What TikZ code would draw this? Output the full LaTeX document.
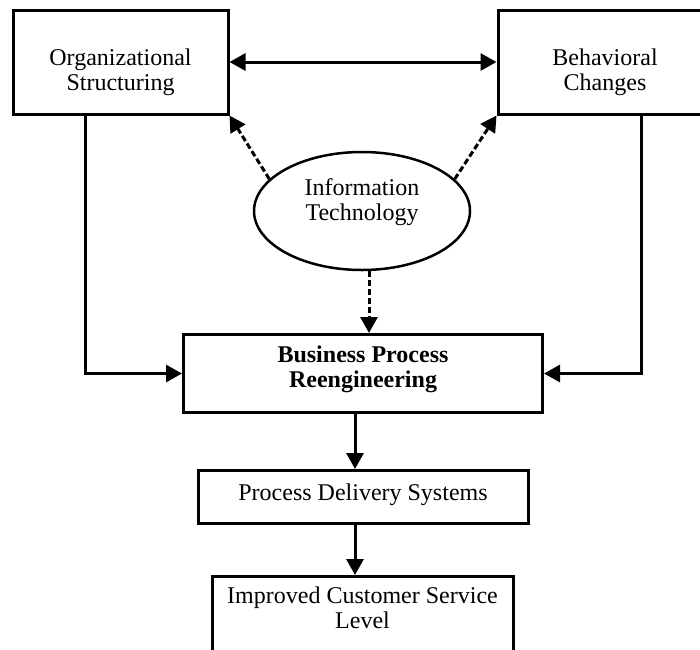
\documentclass[tikz,border=0pt]{standalone}
\usepackage{fontspec}
\setmainfont{Liberation Serif}
\usetikzlibrary{shapes,arrows.meta}
\tikzstyle{block} = [draw, line width=3pt, rectangle, align=center,
    font=\fontsize{24}{25}\selectfont, inner sep=4pt]
\tikzstyle{oval} = [draw, line width=2.5pt, ellipse, align=center,
    font=\fontsize{24}{25}\selectfont]
\tikzstyle{link} = [line width=3pt, ->]
\tikzstyle{dlink} = [link, dash pattern=on 6pt off 3pt]

\begin{document}
\begin{tikzpicture}[x=1pt,y=-1pt,>={Triangle[length=16pt,width=17pt]}]
\useasboundingbox (0,0) rectangle (700,649);

\coordinate (P) at (85,0);
\coordinate (Q) at (641,0);
\coordinate (R) at (355,0);

\node[block, name=org, minimum width=215pt, minimum height=104pt, text height=62pt, text depth=6pt] at (120.5,62) {Organizational\\Structuring};
\node[block, name=beh, minimum width=214pt, minimum height=104pt, text height=62pt, text depth=6pt] at (605,62) {Behavioral\\Changes};
\node[oval, name=it, minimum width=216pt, minimum height=118pt, text height=41pt, text depth=23pt] at (362,211) {Information\\Technology};
\node[block, name=bpr, minimum width=359pt, minimum height=78pt, text height=41pt, text depth=14pt, font=\fontsize{24}{25}\selectfont\bfseries] at (363,373.5) {Business Process\\Reengineering};
\node[block, name=pds, minimum width=330pt, minimum height=53pt, text depth=9pt] at (363,497) {Process Delivery Systems};
\node[block, name=ics, anchor=north, minimum width=301pt, text height=48pt, text depth=80pt] at (362.5,575) {Improved Customer Service\\Level};

\draw[link, <->] (org) -- (beh);

\draw[dlink] (it.161) -- (org.south east);
\draw[dlink] (it.19) -- (beh.south west);
\draw[dlink] ([xshift=7pt]it.south) -- ([xshift=7pt]it.south |- bpr.north);

\draw[link] (org.south -| P) |- (bpr.west);
\draw[link] (beh.south -| Q) |- (bpr.east);

\draw[link] (bpr.south -| R) -- (pds.north -| R);
\draw[link] (pds.south -| R) -- (ics.north -| R);

\end{tikzpicture}
\end{document}
